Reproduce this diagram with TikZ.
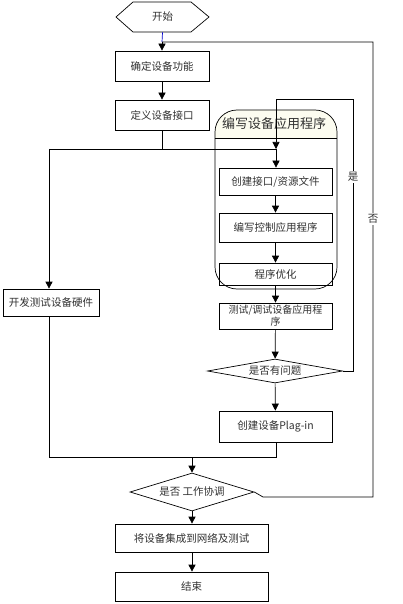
\documentclass[tikz,border=0pt]{standalone}
\usepackage{fontspec}
\setmainfont{Noto Sans CJK SC}
\usetikzlibrary{arrows.meta,shapes.geometric}
\definecolor{hdrfill}{RGB}{252,252,240}
\definecolor{txt}{RGB}{50,50,50}
\begin{document}
\begin{tikzpicture}[x=1pt,y=-1pt,
  line width=0.7pt,
  every node/.style={font=\fontsize{10.5}{12.5}\selectfont, text=txt},
  stepbox/.style={draw, minimum width=113pt, inner sep=1pt, align=center},
  mainbox/.style={draw, minimum width=94pt, inner sep=1pt, align=center},
  decision/.style={draw, diamond, aspect=5, inner sep=0pt},
  arr/.style={-{Triangle[length=7pt,width=7pt]}},
  lbl/.style={fill=white, inner sep=1pt}]
\useasboundingbox (0,0) rectangle (402,604);
\fill[white] (0,0) rectangle (402,604);

% start
\node[minimum width=93pt, minimum height=30pt, inner sep=0pt] (start) at (162.5,17) {开始};
\draw (116,17) -- (133,2) -- (191,2) -- (209,17) -- (191,32) -- (133,32) -- cycle;

\node[mainbox, minimum height=30pt] (b1) at (162,66) {确定设备功能};
\node[mainbox, minimum height=30pt] (b2) at (162,115) {定义设备接口};
\node[mainbox, minimum width=96pt, minimum height=27pt] (hw) at (51,302.5) {开发测试设备硬件};

% group container
\begin{scope}
\clip (215,110) rectangle (337,138);
\fill[hdrfill, rounded corners=22pt] (215,110) rectangle (337,289);
\end{scope}
\node[draw, rounded corners=22pt, minimum width=122pt, minimum height=179pt, inner sep=0pt] (grp) at (276,199.5) {};
\draw (grp.west |- 0,138) -- (grp.east |- 0,138);
\node[font=\fontsize{13}{15}\selectfont] (title) at (274,124) {编写设备应用程序};

\node[stepbox, minimum height=27pt] (c1) at (275.5,181.5) {创建接口/资源文件};
\node[stepbox, minimum height=29pt] (c2) at (275.5,227.5) {编写控制应用程序};
\node[stepbox, minimum height=22pt] (c3) at (275.5,274) {程序优化};
\node[stepbox, minimum height=26pt, inner sep=0pt, font=\fontsize{10}{12}\selectfont] (test) at (275.5,316) {测试/调试设备应用程\\序};
\node[decision, minimum width=135pt, minimum height=24pt] (d1) at (275,371) {是否有问题};
\node[stepbox, minimum height=31pt] (plug) at (275.5,426.5) {创建设备Plag-in};
\node[decision, minimum width=124pt, minimum height=38pt] (d2) at (192,492) {是否 工作协调};
\node[mainbox, minimum width=153pt, minimum height=28pt] (integ) at (191.5,538) {将设备集成到网络及测试};
\node[mainbox, minimum width=153pt, minimum height=29pt] (end) at (191.5,586.5) {结束};

% coordinates
\coordinate (j0) at (162,42);
\coordinate (j1) at (162,149);
\coordinate (jl) at (49,149);
\coordinate (jr) at (276,149);
\coordinate (ytop) at (276,99);
\coordinate (yr) at (353,99);
\coordinate (yd) at (353,371);
\coordinate (nt) at (373,42);
\coordinate (nb) at (373,497);
\coordinate (nk) at (263,497);
\coordinate (m1) at (276,457);
\coordinate (m2) at (49,457);
\coordinate (m3) at (192,457);

% connectors
\draw[blue!80!black] (start.south) -- (j0);
\draw[arr] (j0) -- (b1.north);
\draw[arr] (b1) -- (b2);
\draw (b2.south) -- (j1);
\draw (jl) -- (jr);
\draw[arr] (jl) -- (jl |- hw.north);
\draw[arr] (jr) -- (jr |- c1.north);
\draw[arr] (c1) -- (c2);
\draw[arr] (c2) -- (c3);
\draw[arr] (c3.south -| test.north) -- (test.north);
\draw[arr] (test) -- (d1);
\draw[arr] (d1) -- (plug);
\draw[arr] (d1.east) -- (yd) -- (yr) -- (ytop) -- (jr);
\node[lbl] (yes) at (353,177) {是};
\draw (plug.south -| m1) -- (m1) -- (m2) -- (m2 |- hw.south);
\draw[arr] (m3) -- (d2.north);
\draw (d2.east) -- (nk) -- (nb) -- (nt) -- (j0);
\node[lbl] (no) at (373,219) {否};
\draw[arr] (d2.south) -- (d2.south |- integ.north);
\draw[arr] (d2.south |- integ.south) -- (d2.south |- end.north);
\end{tikzpicture}
\end{document}
